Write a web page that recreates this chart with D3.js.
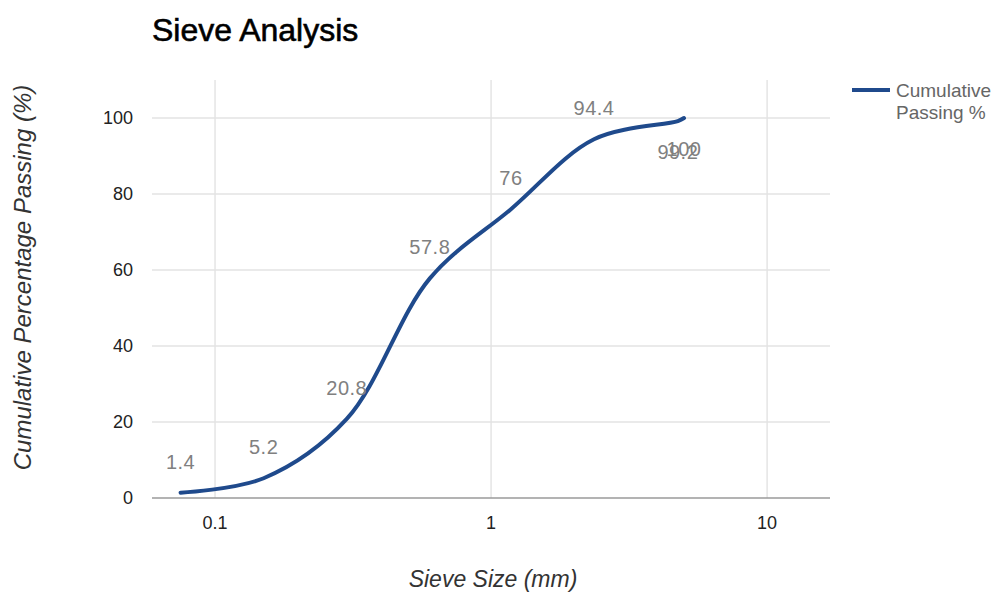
<!DOCTYPE html>
<html>
<head>
<meta charset="utf-8">
<script src="https://cdn.jsdelivr.net/npm/d3@7"></script>
<style>
  html, body { margin: 0; padding: 0; background: #fff; }
  svg { display: block; font-family: Arial, "Liberation Sans", sans-serif; }
</style>
</head>
<body>
<svg id="chart" width="995" height="594"></svg>
<script>
// ---- data ----
const sieveSizes = [0.075, 0.15, 0.3, 0.6, 1.18, 2.36, 4.75, 5];
const cumulativePassing = [1.4, 5.2, 20.8, 57.8, 76, 94.4, 99.2, 100];
const xTickValues = [0.1, 1, 10];
const xTickLabels = ["0.1", "1", "10"];
const yTickValues = [0, 20, 40, 60, 80, 100];
const seriesName = ["Cumulative", "Passing %"];
const chartTitle = "Sieve Analysis";
const xTitle = "Sieve Size (mm)";
const yTitle = "Cumulative Percentage Passing (%)";

// ---- layout ----
const svg = d3.select("#chart");
const plot = { left: 152, right: 830, top: 80, bottom: 498 };
const lineColor = "#1f4a8c";

const x = d3.scaleLog().domain([0.0591, 16.9]).range([plot.left, plot.right]);
const y = d3.scaleLinear().domain([0, 110]).range([plot.bottom, plot.top]);

const data = sieveSizes.map((s, i) => ({ s, v: cumulativePassing[i] }));

// gridlines
svg.append("g").selectAll("line.h").data(yTickValues.filter(d => d !== 0)).join("line")
  .attr("x1", plot.left).attr("x2", plot.right)
  .attr("y1", d => y(d)).attr("y2", d => y(d))
  .attr("stroke", "#e3e3e3").attr("stroke-width", 1.4);
svg.append("g").selectAll("line.v").data(xTickValues).join("line")
  .attr("x1", d => x(d)).attr("x2", d => x(d))
  .attr("y1", plot.top).attr("y2", plot.bottom)
  .attr("stroke", "#e3e3e3").attr("stroke-width", 1.4);

// baseline
svg.append("line")
  .attr("x1", plot.left).attr("x2", plot.right)
  .attr("y1", y(0)).attr("y2", y(0))
  .attr("stroke", "#9a9a9a").attr("stroke-width", 1.6);

// y tick labels
svg.append("g").selectAll("text").data(yTickValues).join("text")
  .attr("x", 133).attr("y", d => y(d)).attr("dy", "0.35em")
  .attr("text-anchor", "end").attr("font-size", 18).attr("fill", "#222")
  .text(d => d);

// x tick labels
svg.append("g").selectAll("text").data(xTickValues).join("text")
  .attr("x", d => x(d)).attr("y", 529)
  .attr("text-anchor", "middle").attr("font-size", 18).attr("fill", "#222")
  .text((d, i) => xTickLabels[i]);

// line
const line = d3.line().x(d => x(d.s)).y(d => y(d.v)).curve(d3.curveCatmullRom.alpha(0.5));
svg.append("path").datum(data)
  .attr("d", line)
  .attr("fill", "none").attr("stroke", lineColor)
  .attr("stroke-width", 4).attr("stroke-linecap", "round").attr("stroke-linejoin", "round");

// data labels
svg.append("g").selectAll("text").data(data).join("text")
  .attr("x", d => x(d.s))
  .attr("y", d => {
    const py = y(d.v);
    return (py - 26 - 15 < plot.top + 5) ? py + 38 : py - 24;
  })
  .attr("text-anchor", "middle").attr("font-size", 20).attr("fill", "#808080")
  .attr("letter-spacing", 0.5)
  .text(d => d.v);

// title
svg.append("text").attr("x", 152).attr("y", 41)
  .attr("font-size", 32).attr("fill", "#000")
  .attr("stroke", "#000").attr("stroke-width", 0.6)
  .text(chartTitle);

// axis titles
svg.append("text").attr("x", 493).attr("y", 587)
  .attr("text-anchor", "middle").attr("font-size", 23).attr("font-style", "italic").attr("fill", "#333")
  .text(xTitle);
svg.append("text")
  .attr("transform", `translate(31, ${(85 + 470) / 2}) rotate(-90)`)
  .attr("text-anchor", "middle").attr("font-size", 24).attr("font-style", "italic").attr("fill", "#333")
  .text(yTitle);

// legend
const lg = svg.append("g");
lg.append("line").attr("x1", 852).attr("x2", 890).attr("y1", 90).attr("y2", 90)
  .attr("stroke", lineColor).attr("stroke-width", 4);
lg.selectAll("text").data(seriesName).join("text")
  .attr("x", 896).attr("y", (d, i) => 97 + i * 22)
  .attr("font-size", 19).attr("fill", "#666")
  .text(d => d);
</script>
</body>
</html>
